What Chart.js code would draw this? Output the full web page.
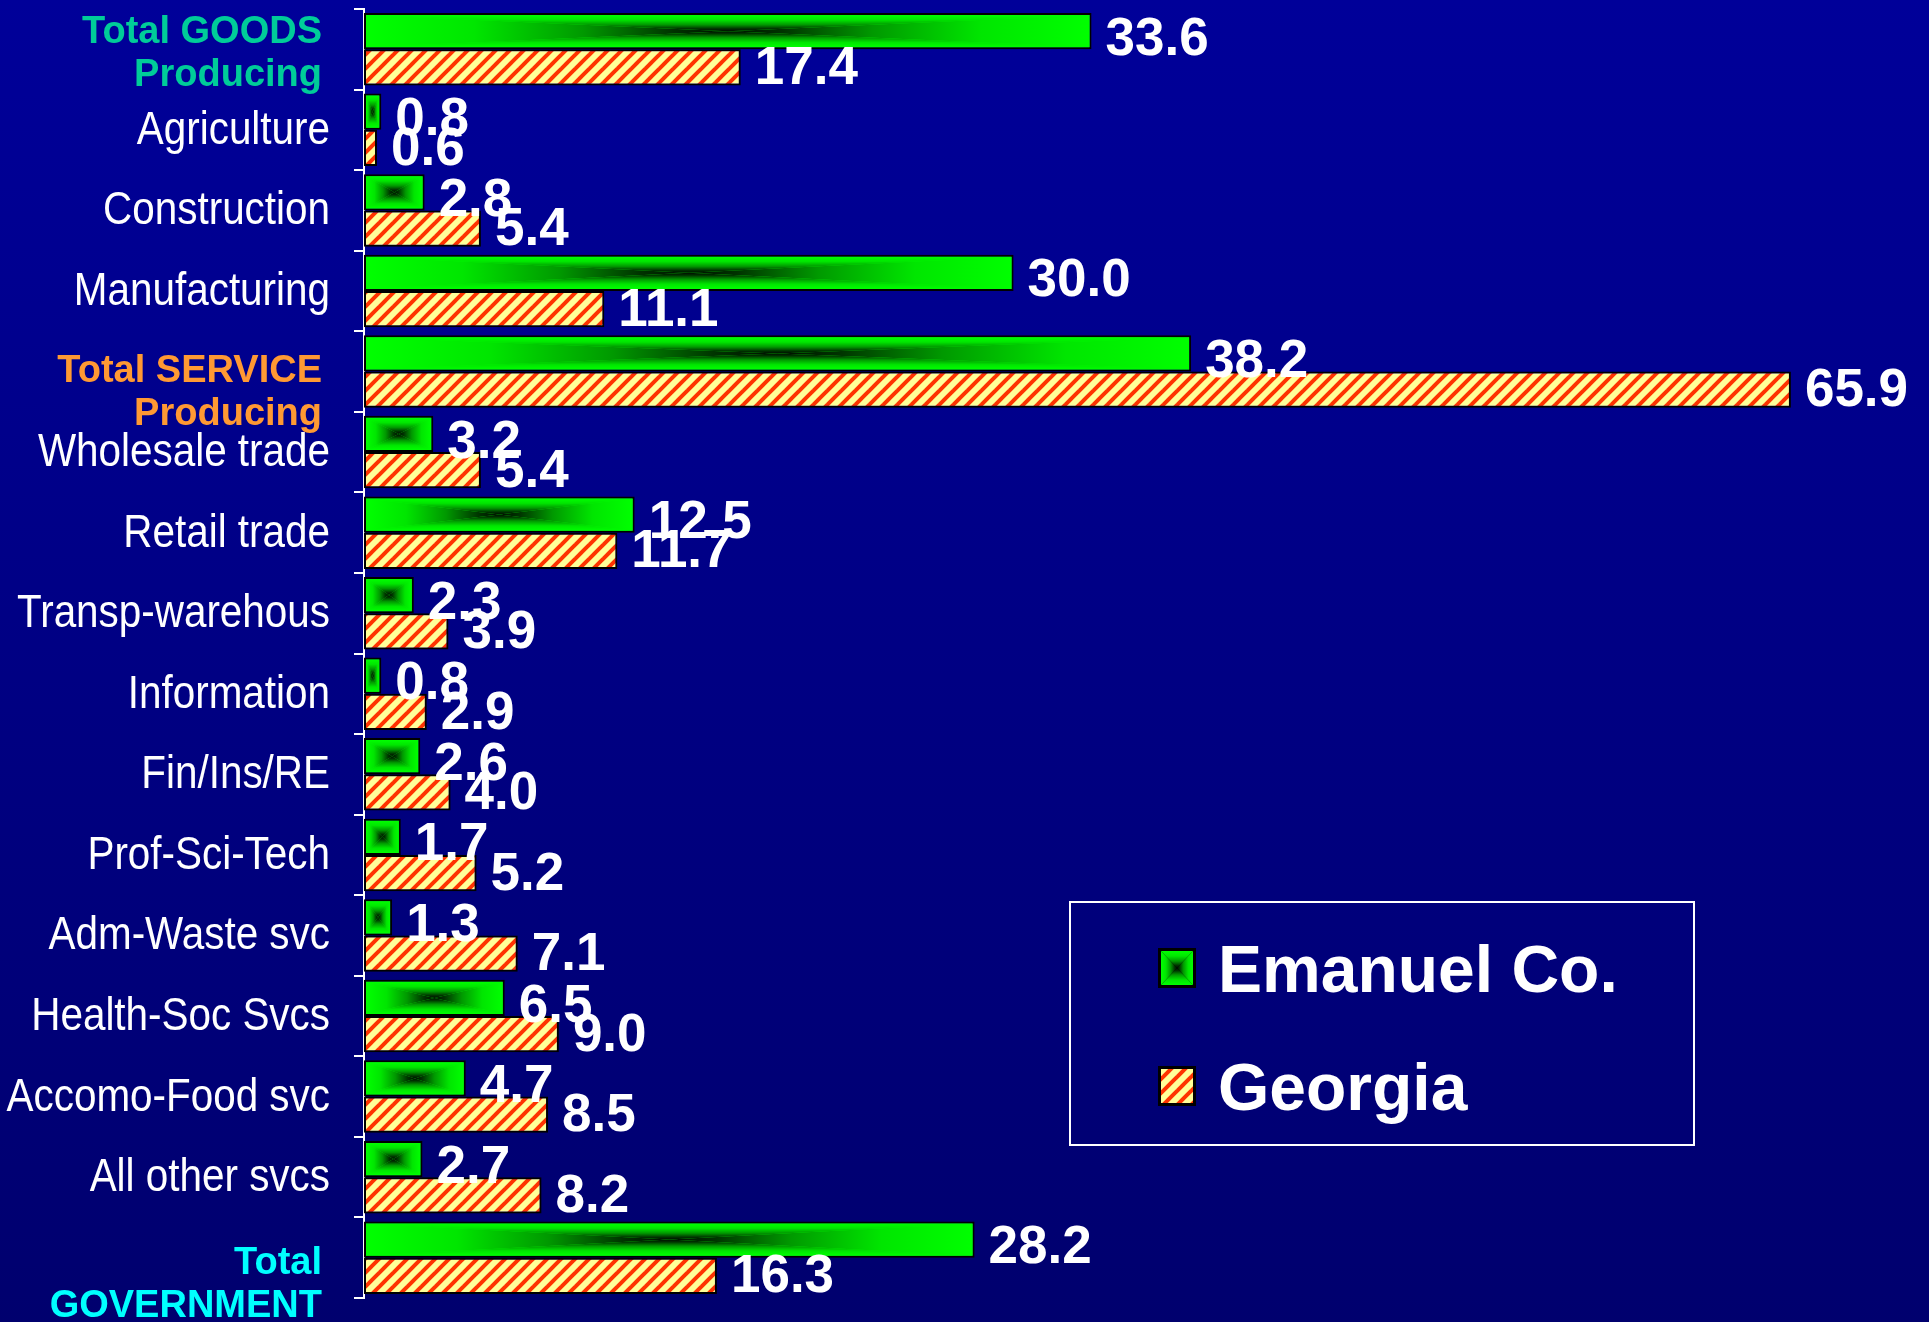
<!DOCTYPE html>
<html>
<head>
<meta charset="utf-8">
<script src="https://cdn.jsdelivr.net/npm/chart.js@4.4.1/dist/chart.umd.min.js"></script>
<style>
  html, body { margin: 0; padding: 0; }
  body { width: 1929px; height: 1322px; background: linear-gradient(#000099, #00006e); overflow: hidden; }
  #wrap { position: relative; width: 1929px; height: 1322px; }
</style>
</head>
<body>
<div id="wrap"><canvas id="jobsChart"></canvas></div>
<script>
// Kategorien (mehrzeilige Summen-Zeilen als Arrays)
const categories = [
  ['Total GOODS', 'Producing'], 'Agriculture', 'Construction', 'Manufacturing',
  ['', 'Total SERVICE', 'Producing'], 'Wholesale trade', 'Retail trade', 'Transp-warehous',
  'Information', 'Fin/Ins/RE', 'Prof-Sci-Tech', 'Adm-Waste svc', 'Health-Soc Svcs',
  'Accomo-Food svc', 'All other svcs', ['', 'Total', 'GOVERNMENT']
];
const emanuel = [33.6, 0.8, 2.8, 30.0, 38.2, 3.2, 12.5, 2.3, 0.8, 2.6, 1.7, 1.3, 6.5, 4.7, 2.7, 28.2];
const georgia = [17.4, 0.6, 5.4, 11.1, 65.9, 5.4, 11.7, 3.9, 2.9, 4.0, 5.2, 7.1, 9.0, 8.5, 8.2, 16.3];
const seriesNames = ['Emanuel Co.', 'Georgia'];

// Farben der Summen-Beschriftungen
const totalColors = { 0: '#00cc99', 4: '#ff9933', 15: '#00ffff' };
const totalShift = { 0: 5, 4: 0, 15: 6 };

const ctx = document.getElementById('jobsChart').getContext('2d');

// Schraffur rot/gelb
function makeStripes() {
  const s = 14;
  const c = document.createElement('canvas');
  c.width = s; c.height = s;
  const g = c.getContext('2d');
  g.fillStyle = '#ffff99';
  g.fillRect(0, 0, s, s);
  g.strokeStyle = '#ff3300';
  g.lineWidth = 4;
  [[-s, s, s, -s], [0, s, s, 0], [0, 2 * s, 2 * s, 0]].forEach(([a, b, c2, d]) => {
    g.beginPath(); g.moveTo(a, b); g.lineTo(c2, d); g.stroke();
  });
  return ctx.createPattern(c, 'repeat');
}
const stripes = makeStripes();

// Rechteckiger Pfadverlauf: Rand hellgruen, Mitte schwarz
function greenRect(c, l, t, r, b) {
  const cx = (l + r) / 2, cy = (t + b) / 2;
  const stops = (gr) => {
    gr.addColorStop(0, '#00ff00');
    gr.addColorStop(0.3, '#00e600');
    gr.addColorStop(0.6, '#009900');
    gr.addColorStop(0.85, '#003300');
    gr.addColorStop(1, '#000e00');
    return gr;
  };
  const tri = (pts, gr) => {
    c.beginPath();
    c.moveTo(pts[0][0], pts[0][1]);
    c.lineTo(pts[1][0], pts[1][1]);
    c.lineTo(pts[2][0], pts[2][1]);
    c.closePath();
    c.fillStyle = stops(gr);
    c.fill();
  };
  c.save();
  c.beginPath(); c.rect(l, t, r - l, b - t); c.clip();
  tri([[l, t], [r, t], [cx, cy]], c.createLinearGradient(0, t, 0, cy));
  tri([[l, b], [r, b], [cx, cy]], c.createLinearGradient(0, b, 0, cy));
  tri([[l, t], [l, b], [cx, cy]], c.createLinearGradient(l, 0, cx, 0));
  tri([[r, t], [r, b], [cx, cy]], c.createLinearGradient(r, 0, cx, 0));
  c.restore();
}

const greenFill = {
  id: 'greenFill',
  afterDatasetDraw(chart, args) {
    if (args.index !== 0) return;
    const c = chart.ctx;
    args.meta.data.forEach(el => {
      const bw = 2;
      const l = Math.min(el.base, el.x) + bw, r = Math.max(el.base, el.x) - bw;
      const t = el.y - el.height / 2 + bw, b = el.y + el.height / 2 - bw;
      if (r > l) greenRect(c, l, t, r, b);
    });
  }
};

const valueLabels = {
  id: 'valueLabels',
  afterDatasetsDraw(chart) {
    const c = chart.ctx;
    c.save();
    c.fillStyle = '#ffffff';
    c.font = 'bold 53px "Liberation Sans", Arial, sans-serif';
    c.textAlign = 'left';
    c.textBaseline = 'middle';
    const dy = [9, 2];
    chart.data.datasets.forEach((ds, i) => {
      chart.getDatasetMeta(i).data.forEach((el, j) => {
        c.fillText(ds.data[j].toFixed(1), el.x + 14, el.y + dy[i]);
      });
    });
    c.restore();
  }
};

// Achsenbeschriftung: schmale Schrift (Arial Narrow nachgebildet)
const catLabels = {
  id: 'catLabels',
  afterDraw(chart) {
    const c = chart.ctx, sc = chart.scales.y;
    c.save();
    c.textBaseline = 'middle';
    c.textAlign = 'right';
    chart.data.labels.forEach((lab, i) => {
      const y = sc.getPixelForTick(i);
      if (Array.isArray(lab)) {
        c.fillStyle = totalColors[i] || '#ffffff';
        c.font = 'bold 38px "Liberation Sans", Arial, sans-serif';
        const lh = 43, y0 = y + totalShift[i] - (lab.length - 1) * lh / 2;
        lab.forEach((s, k) => c.fillText(s, 322, y0 + k * lh));
      } else {
        c.fillStyle = '#ffffff';
        c.font = '47px "Liberation Sans", Arial, sans-serif';
        c.save();
        c.translate(330, y + 1);
        c.scale(0.86, 1);
        c.fillText(lab, 0, 0);
        c.restore();
      }
    });
    c.restore();
  }
};

const boxLegend = {
  id: 'boxLegend',
  afterDraw(chart) {
    const c = chart.ctx;
    c.save();
    c.strokeStyle = '#ffffff';
    c.lineWidth = 2;
    c.strokeRect(1070, 902, 624, 243);
    const rows = [992, 1110];
    chart.data.datasets.forEach((ds, i) => {
      const y = rows[i];
      const sx = 1158, sy = y - 44, sw = 38, sh = 40;
      c.fillStyle = '#000000';
      c.fillRect(sx, sy, sw, sh);
      if (i === 0) greenRect(c, sx + 3, sy + 3, sx + sw - 3, sy + sh - 3);
      else { c.fillStyle = stripes; c.fillRect(sx + 3, sy + 3, sw - 6, sh - 6); }
      c.fillStyle = '#ffffff';
      c.font = 'bold 66px "Liberation Sans", Arial, sans-serif';
      c.textBaseline = 'alphabetic';
      c.fillText(ds.label, 1218, y);
    });
    c.restore();
  }
};

new Chart(ctx, {
  type: 'bar',
  data: {
    labels: categories,
    datasets: [
      { label: seriesNames[0], data: emanuel, backgroundColor: '#00ff00',
        borderColor: '#000000', borderWidth: 2, borderSkipped: false },
      { label: seriesNames[1], data: georgia, backgroundColor: stripes,
        borderColor: '#000000', borderWidth: 2, borderSkipped: false }
    ]
  },
  options: {
    indexAxis: 'y',
    responsive: true,
    maintainAspectRatio: false,
    animation: false,
    datasets: { bar: { categoryPercentage: 0.9, barPercentage: 1.0 } },
    layout: { padding: { top: 9, bottom: 24, right: 6, left: 0 } },
    plugins: { legend: { display: false }, tooltip: { enabled: false } },
    scales: {
      x: { display: false, min: 0, max: 72 },
      y: {
        offset: true,
        afterFit: (s) => { s.width = 364; s.paddingTop = 0; s.paddingBottom = 0; },
        grid: { offset: true, drawOnChartArea: false, tickLength: 10, color: '#ffffff', lineWidth: 2 },
        border: { color: '#ffffff', width: 2 },
        ticks: { display: false, autoSkip: false }
      }
    }
  },
  plugins: [greenFill, valueLabels, catLabels, boxLegend]
});
</script>
</body>
</html>
